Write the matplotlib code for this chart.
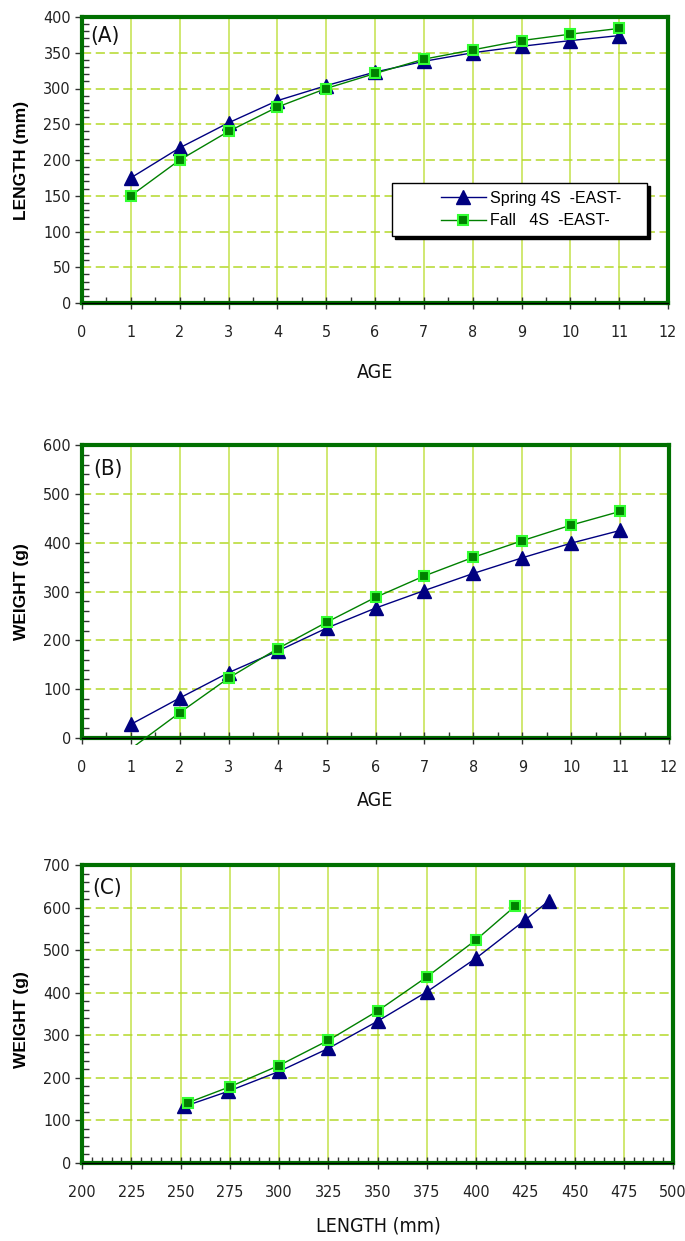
import matplotlib
matplotlib.use('Agg')
import matplotlib.pyplot as plt
from matplotlib.ticker import MultipleLocator
from matplotlib.transforms import Bbox, TransformedBbox
from matplotlib.legend_handler import HandlerLine2D

# Panel A: length at age
age = [1, 2, 3, 4, 5, 6, 7, 8, 9, 10, 11]
spring_len = [175, 217, 252, 283, 304, 323, 338, 350, 359, 367, 374]
fall_len = [150, 200, 240, 274, 300, 321, 341, 354, 367, 376, 384]

# Panel B: weight at age
spring_wt = [28, 82, 134, 178, 225, 266, 302, 337, 369, 399, 425]
fall_wt = [-22, 52, 123, 183, 237, 288, 332, 370, 404, 436, 464]

# Panel C: weight vs length
spring_c_len = [252, 274, 300, 325, 350, 375, 400, 425, 437]
spring_c_wt = [133, 168, 215, 269, 333, 402, 481, 571, 616]
fall_c_len = [254, 275, 300, 325, 350, 375, 400, 420]
fall_c_wt = [142, 179, 229, 288, 357, 437, 524, 604]

NARROW = dict(family=['Liberation Sans Narrow', 'DejaVu Sans'], stretch='condensed')
W, H = 685, 1241

NAVY = '#000080'
DKGREEN = '#008000'
LIME = '#33ff33'
SPINE = '#007000'
VGRID = '#c4e24a'
HGRID = '#b4d82a'


def style_axes(ax, xlim, ylim, xmaj, xmin, ymaj, ymin):
    ax.set_xlim(*xlim)
    ax.set_ylim(*ylim)
    ax.xaxis.set_major_locator(MultipleLocator(xmaj))
    ax.xaxis.set_minor_locator(MultipleLocator(xmin))
    ax.yaxis.set_major_locator(MultipleLocator(ymaj))
    ax.yaxis.set_minor_locator(MultipleLocator(ymin))
    ax.grid(axis='x', which='major', color=VGRID, lw=1.1, ls='-')
    ax.grid(axis='y', which='major', color=HGRID, lw=1.1, ls=(0, (6, 3)))
    ax.set_axisbelow(True)
    for s in ax.spines.values():
        s.set_color(SPINE)
        s.set_linewidth(3)
    ax.axhline(ylim[0], color='black', lw=1, zorder=2.6, clip_on=False)
    ax.tick_params(axis='x', which='major', direction='inout', length=9, width=1,
                   color='#333333', pad=11)
    ax.tick_params(axis='x', which='minor', direction='in', length=4, width=1,
                   color='#333333')
    ax.tick_params(axis='y', which='major', direction='out', length=5, width=1,
                   color='#333333', pad=3)
    ax.tick_params(axis='y', which='minor', direction='in', length=5, width=1,
                   color='#333333')
    for lab in ax.get_xticklabels() + ax.get_yticklabels():
        lab.set_family(NARROW['family'])
        lab.set_stretch(NARROW['stretch'])
        lab.set_fontsize(11.5)
        lab.set_color('#222222')


def plot_series(ax, x, y, fall, markevery=None):
    if fall:
        line, = ax.plot(x, y, color=DKGREEN, lw=1, marker='s', ms=7.5,
                        mfc=DKGREEN, mec=LIME, mew=1.5, zorder=4,
                        markevery=markevery, label='Fall   4S  -EAST-')
    else:
        line, = ax.plot(x, y, color=NAVY, lw=1, marker='^', ms=10,
                        mfc=NAVY, mec=NAVY, zorder=3, markevery=markevery,
                        label='Spring 4S  -EAST-')
    return line


def fig_axes(left, top, right, bottom):
    return fig.add_axes([left / W, 1 - bottom / H, (right - left) / W, (bottom - top) / H])


fig = plt.figure(figsize=(W / 100, H / 100), dpi=100)

# ---- (A)
axA = fig_axes(82, 17, 668, 303)
style_axes(axA, (0, 12), (0, 400), 1, 0.5, 50, 10)
plot_series(axA, age, spring_len, fall=False)
plot_series(axA, age, fall_len, fall=True)
leg_fs = 11.5
leg = axA.legend(loc='upper left', bbox_to_anchor=(392 / W, 1 - 183 / H),
                 bbox_transform=fig.transFigure, frameon=True, fancybox=False,
                 shadow={'color': 'black', 'alpha': 1}, handlelength=5.4,
                 borderpad=0.5, labelspacing=0.45, handletextpad=0.25,
                 borderaxespad=0, numpoints=1,
                 handler_map={matplotlib.lines.Line2D: HandlerLine2D(xpad=2.55)},
                 prop={'family': ['Liberation Sans', 'DejaVu Sans'], 'size': leg_fs})
leg.get_frame().set_edgecolor('black')
leg.get_frame().set_linewidth(1)
for t in leg.get_texts():
    t.set_text(t.get_text() + '    ')

# ---- (B)
axB = fig_axes(82, 445, 669, 738)
style_axes(axB, (0, 12), (0, 600), 1, 0.5, 100, 20)
plot_series(axB, age, spring_wt, fall=False)
fl = plot_series(axB, age, fall_wt, fall=True, markevery=list(range(1, len(age))))
fl.set_clip_box(TransformedBbox(Bbox([[0, -0.025], [1, 1]]), axB.transAxes))

# ---- (C)
axC = fig_axes(82, 865, 673, 1163)
style_axes(axC, (200, 500), (0, 700), 25, 5, 100, 20)
plot_series(axC, spring_c_len, spring_c_wt, fall=False)
plot_series(axC, fall_c_len, fall_c_wt, fall=True)

# axis titles and panel letters
ylab = dict(rotation=90, ha='center', va='center', fontsize=12.5, fontweight='bold',
            family=['Liberation Sans', 'DejaVu Sans'])
fig.text(22 / W, 1 - 160 / H, 'LENGTH (mm)', **ylab)
fig.text(22 / W, 1 - 592 / H, 'WEIGHT (g)', **ylab)
fig.text(22 / W, 1 - 1020 / H, 'WEIGHT (g)', **ylab)

xlab = dict(ha='center', va='center', fontsize=14, color='#111111', **NARROW)
fig.text(375 / W, 1 - 372 / H, 'AGE', **xlab)
fig.text(375 / W, 1 - 800 / H, 'AGE', **xlab)
fig.text(378 / W, 1 - 1226 / H, 'LENGTH (mm)', **xlab)

plab = dict(ha='center', va='center', fontsize=16, color='#111111', **NARROW)
fig.text(105 / W, 1 - 36 / H, '(A)', **plab)
fig.text(108 / W, 1 - 469 / H, '(B)', **plab)
fig.text(107 / W, 1 - 888 / H, '(C)', **plab)

fig.savefig('out.png', dpi=100)
